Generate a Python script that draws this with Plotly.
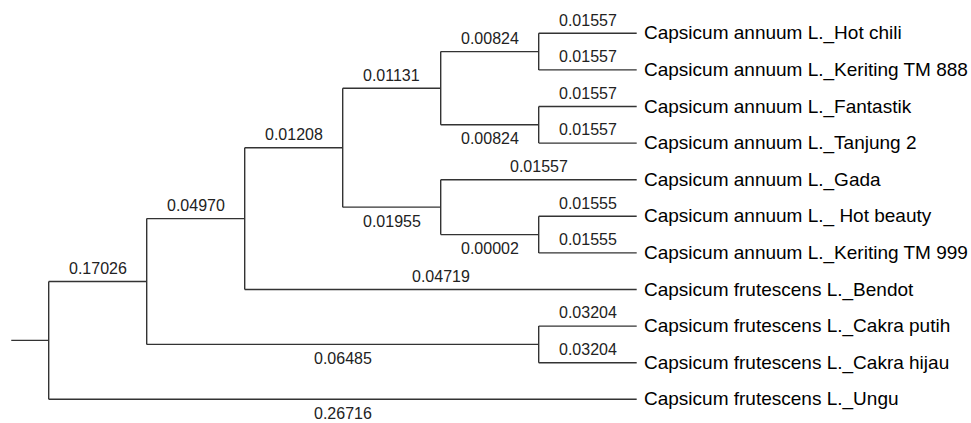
import plotly.graph_objects as go

# ---- data ----
tip_names = [
    "Capsicum annuum L._Hot chili",
    "Capsicum annuum L._Keriting TM 888",
    "Capsicum annuum L._Fantastik",
    "Capsicum annuum L._Tanjung 2",
    "Capsicum annuum L._Gada",
    "Capsicum annuum L._ Hot beauty",
    "Capsicum annuum L._Keriting TM 999",
    "Capsicum frutescens L._Bendot",
    "Capsicum frutescens L._Cakra putih",
    "Capsicum frutescens L._Cakra hijau",
    "Capsicum frutescens L._Ungu",
]
edge_parent = ["D1", "D1", "D2", "D2", "D", "D", "E1", "E1", "E", "E",
               "C", "C", "B", "B", "K", "K", "A", "A", "R", "R"]
edge_child = [tip_names[0], tip_names[1], tip_names[2], tip_names[3], "D1", "D2",
              tip_names[5], tip_names[6], tip_names[4], "E1", "D", "E",
              "C", tip_names[7], tip_names[8], tip_names[9], "B", "K",
              "A", tip_names[10]]
edge_length = [0.01557, 0.01557, 0.01557, 0.01557, 0.00824, 0.00824,
               0.01555, 0.01555, 0.01557, 0.00002, 0.01131, 0.01955,
               0.01208, 0.04719, 0.03204, 0.03204, 0.04970, 0.06485,
               0.17026, 0.26716]
# which branch-length labels sit below their branch
edge_label_below = [False, False, False, False, False, True,
                    False, False, False, True, False, True,
                    False, False, False, False, False, True,
                    False, True]

# ---- layout of the tree (cladogram, tips aligned) ----
children = {}
for p, c in zip(edge_parent, edge_child):
    children.setdefault(p, []).append(c)

height = {}
def get_height(n):
    if n not in children:
        return 0
    if n not in height:
        height[n] = 1 + max(get_height(c) for c in children[n])
    return height[n]

root = "R"
H = get_height(root)
ypos = {name: i for i, name in enumerate(tip_names)}
def get_y(n):
    if n not in ypos:
        ys = [get_y(c) for c in children[n]]
        ypos[n] = (min(ys) + max(ys)) / 2
    return ypos[n]
def get_x(n):
    return H - get_height(n)

xs, ys = [], []
stub = 0.382
xs += [get_x(root) - stub, get_x(root), None]
ys += [get_y(root), get_y(root), None]
for p, kids in children.items():
    kx = get_x(p)
    kys = [get_y(c) for c in kids]
    xs += [kx, kx, None]
    ys += [min(kys), max(kys), None]
for p, c in zip(edge_parent, edge_child):
    xs += [get_x(p), get_x(c), None]
    ys += [get_y(c), get_y(c), None]

fig = go.Figure()
fig.add_trace(go.Scatter(x=xs, y=ys, mode="lines",
                         line=dict(color="#333333", width=1.4),
                         hoverinfo="skip", showlegend=False))

num_font = dict(family="Arial, Liberation Sans", size=16, color="#222222")
off_up, off_dn = 0.36, 0.38
for p, c, L, below in zip(edge_parent, edge_child, edge_length, edge_label_below):
    xm = (get_x(p) + get_x(c)) / 2
    yv = get_y(c) + off_dn if below else get_y(c) - off_up
    fig.add_annotation(x=xm, y=yv, text=f"{L:.5f}", showarrow=False,
                       xanchor="center", yanchor="middle", font=num_font)

for name in tip_names:
    fig.add_annotation(x=H + 0.055, y=get_y(name), text=name, showarrow=False,
                       xanchor="left", yanchor="middle",
                       font=dict(family="Arial, Liberation Sans", size=19, color="#000000"))

px_per_x = 98.0
x0 = -48.7 / px_per_x
px_per_y = 36.6
y0 = -33.3 / px_per_y
fig.update_layout(
    width=971, height=423,
    margin=dict(l=0, r=0, t=0, b=0),
    paper_bgcolor="white", plot_bgcolor="white",
    xaxis=dict(range=[x0, x0 + 971 / px_per_x], visible=False, fixedrange=True),
    yaxis=dict(range=[y0 + 423 / px_per_y, y0], visible=False, fixedrange=True),
)
fig.write_html("out.html", config={"displayModeBar": False},
               post_script="document.body.style.margin='0';document.body.style.overflow='hidden';")
